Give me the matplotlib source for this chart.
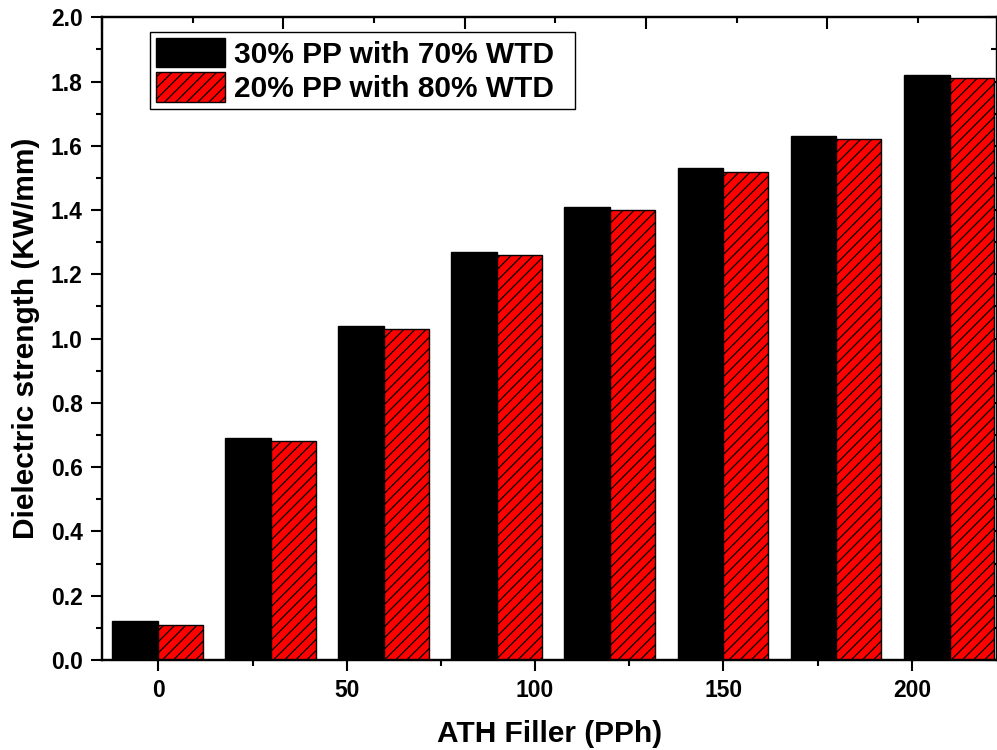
import matplotlib
matplotlib.use("Agg")
import matplotlib.pyplot as plt
from matplotlib.ticker import MultipleLocator, NullFormatter

plt.rcParams['font.family'] = ['Liberation Sans', 'DejaVu Sans']
plt.rcParams['font.weight'] = 'bold'
plt.rcParams['hatch.linewidth'] = 0.9

# ATH filler loading (PPh) and dielectric strength (KW/mm)
filler = [0, 30, 60, 90, 120, 150, 180, 210]
pp30_wtd70 = [0.12, 0.69, 1.04, 1.27, 1.41, 1.53, 1.63, 1.82]
pp20_wtd80 = [0.11, 0.68, 1.03, 1.26, 1.40, 1.52, 1.62, 1.81]
labels = ["30% PP with 70% WTD", "20% PP with 80% WTD"]

fig = plt.figure(figsize=(9.97, 7.5), dpi=100)
ax = fig.add_axes([0.1023, 0.12, 0.8977, 0.857])

ax.bar(filler, pp30_wtd70, width=-12.2, align='edge', color='black',
       edgecolor='black', linewidth=1, label=labels[0])
ax.bar(filler, pp20_wtd80, width=11.8, align='edge', color='#ff0000',
       edgecolor='black', linewidth=1, hatch='///', label=labels[1])

ax.set_xlim(-14.95, 222.6)
ax.set_ylim(0, 2.0)
ax.xaxis.set_major_locator(MultipleLocator(50))
ax.xaxis.set_minor_locator(MultipleLocator(25))
ax.yaxis.set_major_locator(MultipleLocator(0.2))
ax.yaxis.set_minor_locator(MultipleLocator(0.1))
ax.yaxis.set_major_formatter(plt.FuncFormatter(lambda v, p: f"{v:.1f}"))

for s in ax.spines.values():
    s.set_linewidth(1.6)
ax.tick_params(which='major', direction='out', length=8, width=1.5,
               labelsize=16.5, pad=6)
ax.tick_params(which='minor', direction='out', length=4, width=1.5)

ax.set_xlabel("ATH Filler (PPh)", fontsize=21.5, fontweight='bold', labelpad=13)
ax.set_ylabel("Dielectric strength (KW/mm)", fontsize=21.5, fontweight='bold', labelpad=8)

# mirrored top axis (own scale) and right axis, ticks pointing in
top = ax.twiny()
top.set_xlim(0, 246.8)
top.xaxis.set_major_locator(MultipleLocator(50))
top.xaxis.set_minor_locator(MultipleLocator(25))
top.xaxis.set_major_formatter(NullFormatter())
top.tick_params(which='major', direction='in', length=8.5, width=1.5)
top.tick_params(which='minor', direction='in', length=4.5, width=1.5)
for s in top.spines.values():
    s.set_linewidth(1.6)

right = ax.secondary_yaxis('right')
right.yaxis.set_major_locator(MultipleLocator(0.2))
right.yaxis.set_minor_locator(MultipleLocator(0.1))
right.yaxis.set_major_formatter(NullFormatter())
right.tick_params(which='major', direction='in', length=8, width=1.5)
right.tick_params(which='minor', direction='in', length=4, width=1.5)

leg = ax.legend(loc='upper left',
                bbox_to_anchor=(150 / 997, 1 - 109.3 / 750, 425 / 997, 77.6 / 750),
                bbox_transform=fig.transFigure, borderaxespad=0, mode='expand',
                fontsize=21.5, frameon=True, fancybox=False, framealpha=1,
                edgecolor='black', handlelength=2.3, handleheight=1.15,
                handletextpad=0.3, labelspacing=0.12, borderpad=0.2)
leg.get_frame().set_linewidth(1.0)
for t in leg.get_texts():
    t.set_fontweight('bold')

fig.savefig("out.png", dpi=100)
